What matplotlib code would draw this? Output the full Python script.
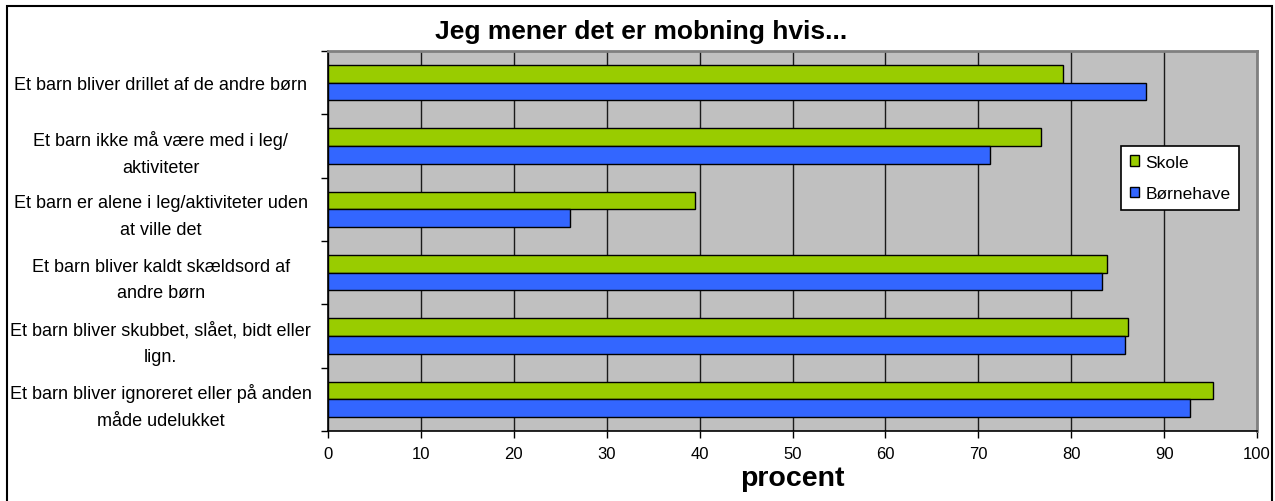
import matplotlib.pyplot as plt
import numpy as np
from matplotlib.patches import Rectangle

plt.rcParams['font.family'] = ['Liberation Sans', 'DejaVu Sans']

categories = [
    "Et barn bliver drillet af de andre børn",
    "Et barn ikke må være med i leg/\naktiviteter",
    "Et barn er alene i leg/aktiviteter uden\nat ville det",
    "Et barn bliver kaldt skældsord af\nandre børn",
    "Et barn bliver skubbet, slået, bidt eller\nlign.",
    "Et barn bliver ignoreret eller på anden\nmåde udelukket",
]
skole = [79.1, 76.8, 39.5, 83.8, 86.1, 95.3]
boernehave = [88.1, 71.3, 26.1, 83.3, 85.8, 92.8]
series_names = ["Skole", "Børnehave"]
xticks = list(range(0, 101, 10))

fig = plt.figure(figsize=(12.75, 5.02), dpi=100)
fig.patches.append(Rectangle((7 / 1275, -0.01), 1265 / 1275, 1 - 7 / 502 + 0.01,
                             transform=fig.transFigure, fill=False,
                             edgecolor="black", linewidth=1.5))

ax = fig.add_axes([328 / 1275, 1 - 432 / 502, 929 / 1275, 380 / 502])
ax.set_facecolor("#C0C0C0")

y = np.arange(len(categories))
h = 0.28
ax.barh(y - h / 2, skole, height=h, color="#99CC00", edgecolor="black",
        linewidth=1.0, label=series_names[0], zorder=3)
ax.barh(y + h / 2, boernehave, height=h, color="#3366FF", edgecolor="black",
        linewidth=1.0, label=series_names[1], zorder=3)

ax.set_xlim(0, 100)
ax.set_ylim(len(categories) - 0.5, -0.5)
ax.set_xticks(xticks)
ax.set_xticklabels([str(t) for t in xticks], fontsize=12)
ax.xaxis.grid(True, color="#1a1a1a", linewidth=1.0, zorder=1)
ax.set_axisbelow(True)

ax.set_yticks(y)
ax.set_yticklabels(categories, fontsize=13, ha="center", linespacing=1.75)
ax.tick_params(axis="y", length=0, pad=120.5)
ax.set_yticks(np.arange(len(categories) + 1) - 0.5, minor=True)
ax.tick_params(axis="y", which="minor", length=5, direction="out", width=1)
ax.tick_params(axis="x", length=5, direction="out", width=1, pad=6)

for side in ["top", "right"]:
    ax.spines[side].set_color("#808080")
    ax.spines[side].set_linewidth(2)
for side in ["left", "bottom"]:
    ax.spines[side].set_color("black")
    ax.spines[side].set_linewidth(1.2)

ax.set_xlabel("procent", fontsize=20.5, fontweight="bold", labelpad=3)
fig.text(0.503, 1 - 32 / 502, "Jeg mener det er mobning hvis...", fontsize=19,
         fontweight="bold", ha="center", va="center")

leg = ax.legend(loc="upper left", bbox_to_anchor=((1121 - 328) / 929, (432 - 147) / 380),
                fontsize=12.5, frameon=True, fancybox=False, edgecolor="black",
                framealpha=1, handlelength=0.55, handleheight=0.55, labelspacing=0.95,
                handletextpad=0.35, borderpad=0.5, borderaxespad=0)
leg.get_frame().set_linewidth(1.2)

fig.savefig("out.png", dpi=100)
